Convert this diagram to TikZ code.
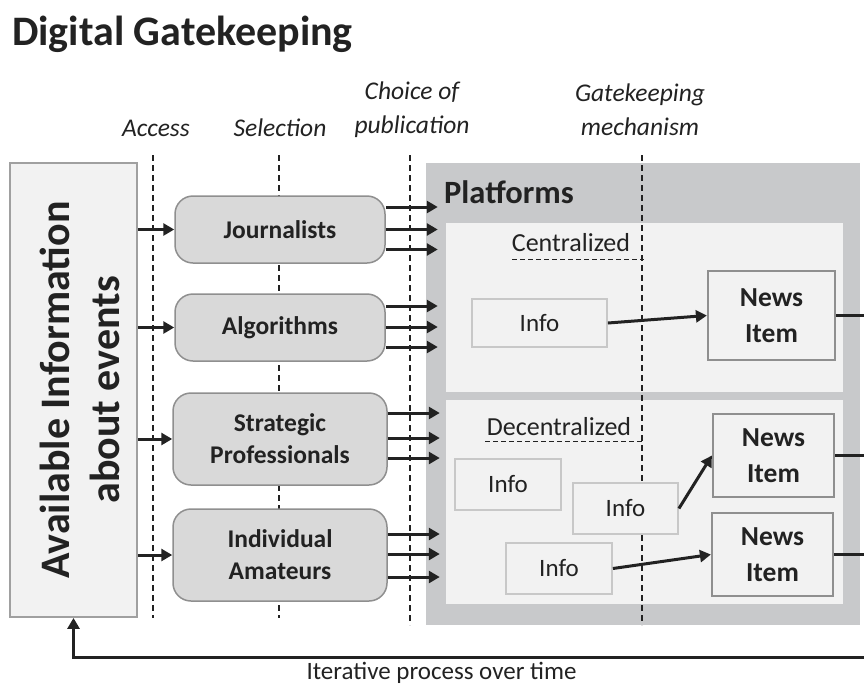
\documentclass[tikz,border=0pt]{standalone}
\usepackage{fontspec}
\setmainfont{Carlito}
\usetikzlibrary{arrows.meta,calc}
\definecolor{txt}{HTML}{222222}
\definecolor{platgray}{HTML}{C8C9CB}
\definecolor{innergray}{HTML}{F2F2F2}
\definecolor{boxgray}{HTML}{D9D9D9}
\definecolor{edgegray}{HTML}{8F8F8F}
\definecolor{lightedge}{HTML}{C8C8C8}
\definecolor{leftedge}{HTML}{A0A0A0}
\tikzset{
  arr/.style={line width=3pt, draw=txt, -{Triangle[length=11pt,width=12pt]}},
  plainline/.style={line width=3pt, draw=txt},
  dashline/.style={draw=txt, line width=1.1pt, dash pattern=on 6pt off 4pt},
  lab/.style={text=txt, font=\fontsize{25.5}{34}\selectfont\itshape, inner sep=0pt, align=center},
  actor/.style={draw=edgegray, line width=1.5pt, fill=boxgray, rounded corners=18pt, text=txt,
     font=\fontsize{25.5}{32}\selectfont\bfseries, align=center, inner sep=0pt},
  infobox/.style={draw=lightedge, line width=1.8pt, fill=innergray, text=txt,
     font=\fontsize{25}{30}\selectfont, inner sep=0pt},
  newsbox/.style={draw=edgegray, line width=2.2pt, fill=innergray, text=txt,
     font=\fontsize{27.5}{36}\selectfont\bfseries, align=center, inner sep=0pt},
}
\begin{document}
\begin{tikzpicture}[x=1pt,y=-1pt]
\useasboundingbox (0,0) rectangle (864,686);
% title
\node[anchor=base west, inner sep=0pt, text=txt, font=\fontsize{42}{48}\selectfont\bfseries] (title) at (12,45) {Digital Gatekeeping};
% phase labels
\node[lab] (access) at (156,128) {Access};
\node[lab] (selection) at (280,128) {Selection};
\node[lab] (choice) at (412,110) {Choice of\\publication};
\node[lab] (gate) at (640,110) {Gatekeeping\\mechanism};
% platforms
\node[fill=platgray, minimum width=434pt, minimum height=462pt, inner sep=0pt] (plat) at (643,394) {};
\node[anchor=base west, inner sep=0pt, text=txt, font=\fontsize{32.5}{38}\selectfont\bfseries] (platlab) at (444,203) {Platforms};
\node[fill=innergray, minimum width=397pt, minimum height=169pt, inner sep=0pt] (central) at (644.5,307.5) {};
\node[fill=innergray, minimum width=397pt, minimum height=204pt, inner sep=0pt] (decentral) at (644.5,502) {};
% dashed phase lines
\coordinate (d1a) at (153,155); \coordinate (d1b) at (153,618);
\coordinate (d2a) at (279,155); \coordinate (d2b) at (279,618);
\coordinate (d3a) at (410,155); \coordinate (d3b) at (410,625);
\coordinate (d4a) at (642,155); \coordinate (d4b) at (642,625);
\draw[dashline] (d1a) -- (d1b);
\draw[dashline] (d2a) -- (d2b);
\draw[dashline] (d3a) -- (d3b);
\draw[dashline] (d4a) -- (d4b);
% centralized / decentralized labels
\node[inner sep=0pt, text=txt, font=\fontsize{26}{30}\selectfont] (clab) at (571,243) {Centralized};
\coordinate (cu1) at (512,259); \coordinate (cu2) at (644,259);
\draw[dashline, line width=1pt, dash pattern=on 5pt off 3pt] (cu1) -- (cu2);
\node[inner sep=0pt, text=txt, font=\fontsize{26}{30}\selectfont] (dlab) at (559,427) {Decentralized};
\coordinate (du1) at (485,441); \coordinate (du2) at (642,441);
\draw[dashline, line width=1pt, dash pattern=on 5pt off 3pt] (du1) -- (du2);
% left box
\node[draw=leftedge, line width=1.8pt, fill=innergray, minimum width=127pt, minimum height=454pt, inner sep=0pt] (avail) at (73.5,390) {};
\node[rotate=90, text=txt, font=\fontsize{42}{50}\selectfont\bfseries, align=center, inner sep=0pt] (availtxt) at (80,390) {Available Information\\about events};
% actors
\node[actor, minimum width=210pt, minimum height=67pt] (jour) at (280,229.5) {Journalists};
\node[actor, minimum width=210pt, minimum height=67pt] (algo) at (280,327.5) {Algorithms};
\node[actor, minimum width=214pt, minimum height=92pt] (strat) at (280,439) {Strategic\\Professionals};
\node[actor, minimum width=214pt, minimum height=92pt, text depth=0pt] (indiv) at (280,555) {Individual\\Amateurs};
% access arrows
\draw[arr] (avail.east |- jour.west) -- (jour.west);
\draw[arr] (avail.east |- algo.west) -- (algo.west);
\draw[arr] (avail.east |- strat.west) -- (strat.west);
\draw[arr] (avail.east |- indiv.west) -- (indiv.west);
% publication arrows
\foreach \n/\a/\b/\c in {jour/22.5/0/-20, algo/21.5/0.5/-19.5, strat/26/1/-19, indiv/21/1/-22}{
  \draw[arr] ([yshift=\a pt]\n.east) -- +(52,0);
  \draw[arr] ([yshift=\b pt]\n.east) -- +(52,0);
  \draw[arr] ([yshift=\c pt]\n.east) -- +(52,0);
}
% info and news items
\node[infobox, minimum width=135pt, minimum height=48pt] (info1) at (539.5,323) {Info};
\node[newsbox, minimum width=127pt, minimum height=89pt] (news1) at (771.5,315.5) {News\\Item};
\node[infobox, minimum width=106pt, minimum height=51pt] (info2) at (508,484.5) {Info};
\node[infobox, minimum width=105pt, minimum height=51pt] (info3) at (625.5,508.5) {Info};
\node[infobox, minimum width=106pt, minimum height=51pt] (info4) at (559,568.5) {Info};
\node[newsbox, minimum width=121pt, minimum height=83pt] (news2) at (773.5,455.5) {News\\Item};
\node[newsbox, minimum width=121pt, minimum height=83pt] (news3) at (772.5,554.5) {News\\Item};
\draw[arr] (info1.east) -- (news1.west);
\draw[arr] (info3.east) -- (news2.west);
\draw[arr] (info4.east) -- (news3.west);
% outputs to the right edge
\coordinate (r1) at (866,315.5);
\coordinate (r2) at (866,455.5);
\coordinate (r3) at (866,554.5);
\draw[plainline] (news1.east) -- (r1);
\draw[plainline] (news2.east) -- (r2);
\draw[plainline] (news3.east) -- (r3);
% feedback loop
\coordinate (fb) at (866,657);
\draw[arr] (fb) -| (avail.south);
\node[inner sep=0pt, text=txt, font=\fontsize{25}{30}\selectfont] (iter) at (441.5,672.5) {Iterative process over time};
\end{tikzpicture}
\end{document}
